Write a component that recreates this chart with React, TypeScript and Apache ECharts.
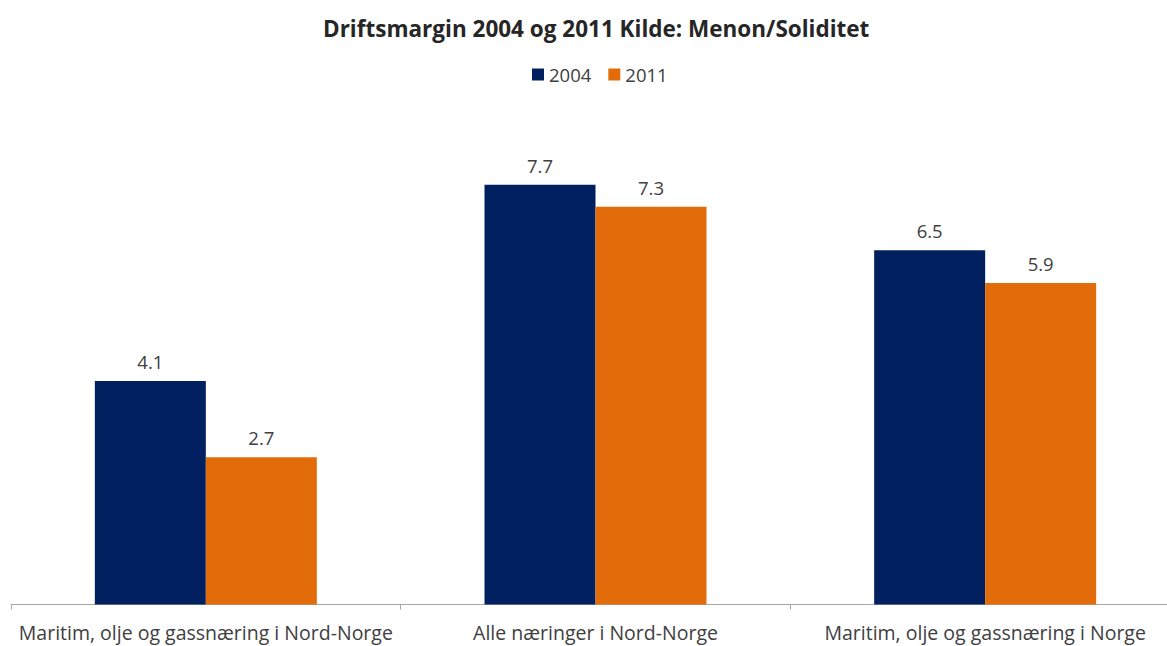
import React, { useEffect, useRef } from "react";
import * as echarts from "echarts";

const categories = [
  "Maritim, olje og gassnæring i Nord-Norge",
  "Alle næringer i Nord-Norge",
  "Maritim, olje og gassnæring i Norge",
];
const seriesNames = ["2004", "2011"];
const values2004 = [4.1, 7.7, 6.5];
const values2011 = [2.7, 7.3, 5.9];

const FONT = "'Open Sans', sans-serif";

export default function App() {
  const ref = useRef<HTMLDivElement>(null);
  useEffect(() => {
    if (!ref.current) return;
    const chart = echarts.init(ref.current, undefined, { renderer: "svg" });
    const label = {
      show: true,
      position: "top",
      distance: 10,
      color: "#404040",
      fontSize: 18.5,
      fontFamily: FONT,
      formatter: (p: any) => Number(p.value).toFixed(1),
    };
    chart.setOption({
      animation: false,
      backgroundColor: "#ffffff",
      title: {
        text: "Driftsmargin 2004 og 2011 Kilde: Menon/Soliditet",
        left: 318,
        top: 12,
        textStyle: { fontFamily: FONT, fontSize: 22.5, fontWeight: "bold", color: "#262626" },
      },
      legend: {
        data: seriesNames,
        left: 527,
        top: 60,
        itemWidth: 12,
        itemHeight: 12,
        itemGap: 17,
        icon: "rect",
        textStyle: { fontFamily: FONT, fontSize: 18.5, color: "#404040" },
      },
      grid: { left: 11, width: 1169, top: 114, height: 490.5 },
      xAxis: {
        type: "category",
        data: categories,
        axisLine: { lineStyle: { color: "#a6a6a6", width: 1 } },
        axisTick: { show: true, length: 5, lineStyle: { color: "#a6a6a6" } },
        axisLabel: { color: "#404040", fontSize: 19.5, fontFamily: FONT, margin: 18, interval: 0 },
      },
      yAxis: {
        type: "value",
        min: 0,
        max: 9,
        show: false,
        splitLine: { show: false },
      },
      series: [
        {
          name: seriesNames[0],
          type: "bar",
          data: values2004,
          barWidth: 111,
          barGap: "0%",
          itemStyle: { color: "#002060" },
          label,
        },
        {
          name: seriesNames[1],
          type: "bar",
          data: values2011,
          barWidth: 111,
          barGap: "0%",
          itemStyle: { color: "#E36C0A" },
          label,
        },
      ],
    });
    return () => chart.dispose();
  }, []);
  return (
    <div style={{ position: "absolute", left: 0, top: 0, width: 1167, height: 646, overflow: "hidden" }}>
      <div ref={ref} style={{ width: 1200, height: 646 }} />
    </div>
  );
}
